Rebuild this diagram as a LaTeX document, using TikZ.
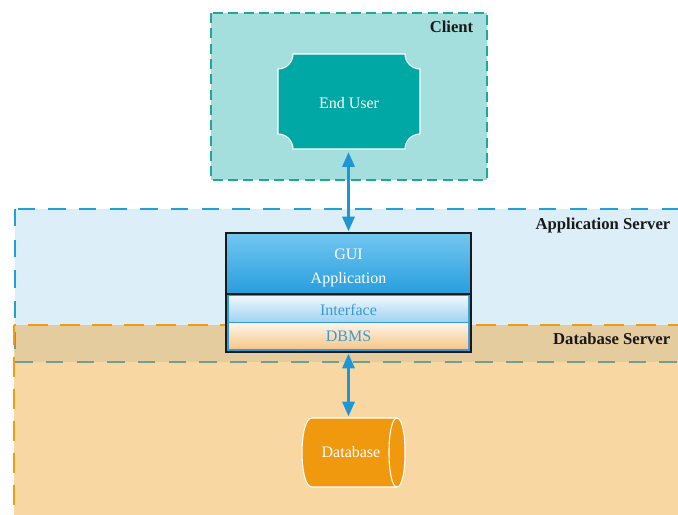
\documentclass[tikz,border=0pt]{standalone}
\usepackage{fontspec}
\setmainfont{Liberation Serif}
\usetikzlibrary{arrows.meta}

\definecolor{tealline}{RGB}{32,166,158}
\definecolor{tealfill}{RGB}{164,223,222}
\definecolor{userfill}{RGB}{0,168,165}
\definecolor{appfill}{RGB}{220,238,248}
\definecolor{appline}{RGB}{30,160,220}
\definecolor{dborange}{RGB}{240,155,25}
\definecolor{arrowblue}{RGB}{30,150,214}
\definecolor{cylfill}{RGB}{240,153,15}
\definecolor{boxblue}{RGB}{52,155,218}
\definecolor{textblue}{RGB}{58,154,216}
\definecolor{guitop}{RGB}{114,198,240}
\definecolor{guibot}{RGB}{40,158,222}
\definecolor{iftop}{RGB}{236,247,253}
\definecolor{ifbot}{RGB}{160,211,240}
\definecolor{dbmstop}{RGB}{254,244,229}
\definecolor{dbmsbot}{RGB}{247,199,138}

\tikzset{
  zone/.style={line width=2pt},
  zonelabel/.style={anchor=base east, font=\fontsize{12.5}{14}\selectfont\bfseries, text=black!90},
  bodytext/.style={font=\fontsize{12}{18}\selectfont},
  link/.style={draw=arrowblue, line width=2.2pt,
    {Triangle[length=11pt,width=9pt]}-{Triangle[length=11pt,width=9pt]}, shorten <=1pt, shorten >=1pt},
}

\begin{document}
\begin{tikzpicture}[x=0.75pt, y=-0.75pt]
\useasboundingbox (0,0) rectangle (678,514);
\begin{scope}
\clip (0,0) rectangle (678,514);

% server zones
\draw[zone, draw=appline, fill=appfill, dash pattern=on 13pt off 10pt]
  (15,209) rectangle (700,362);
\draw[zone, draw=dborange, fill=dborange, fill opacity=0.4, dash pattern=on 15pt off 9pt]
  (14,325) rectangle (700,520);

% client zone
\draw[line width=2.2pt, draw=tealline, fill=tealfill, dash pattern=on 7.5pt off 4pt]
  (211,13) rectangle (487,180);
\end{scope}

\node[zonelabel] (lclient) at (478,32) {Client};
\node[zonelabel] (lapp) at (675,229) {Application Server};
\node[zonelabel] (ldb) at (675,344) {Database Server};

% end user
\fill[userfill, draw=white, line width=0.8pt]
  (293,54) -- (405,54) .. controls (405,62.28) and (411.72,69) .. (420,69)
  -- (420,134) .. controls (411.72,134) and (405,140.72) .. (405,149)
  -- (293,149) .. controls (293,140.72) and (286.28,134) .. (278,134)
  -- (278,69) .. controls (286.28,69) and (293,62.28) .. cycle;
\node[bodytext, text=white, minimum width=106.5pt, minimum height=71.25pt] (user) at (349,103) {End User};

% application block
\node[fill=boxblue, minimum width=183.75pt, minimum height=89.25pt, inner sep=0pt] (app) at (348.5,292.5) {};
\shade[top color=guitop, bottom color=guibot] (227,234) rectangle (470,293);
\draw[black!90, line width=1.5pt] (226,233) rectangle (471,294);
\node[bodytext, text=white, align=center] (gui) at (348.5,267.5) {GUI\\Application};

\shade[top color=iftop, bottom color=ifbot] (229,296.5) rectangle (468,321.5);
\node[bodytext, text=textblue, inner sep=0pt] (iface) at (348.5,309.5) {Interface};

\shade[top color=dbmstop, bottom color=dbmsbot] (229,323.5) rectangle (468,348.5);
\node[bodytext, text=textblue, inner sep=0pt] (dbms) at (348.5,336.5) {DBMS};
\draw[black!90, line width=1.5pt] (226,233) rectangle (471,352);

% database cylinder
\fill[cylfill, draw=white, line width=0.8pt]
  (312,418) -- (397,418) .. controls (407.7,418) and (407.7,487) .. (397,487)
  -- (312,487) .. controls (298.7,487) and (298.7,418) .. cycle;
\draw[white, line width=0.8pt] (397,418) .. controls (386.3,418) and (386.3,487) .. (397,487);
\node[bodytext, text=white, minimum width=77.25pt, minimum height=51.75pt] (db) at (351,452.5) {Database};

% connectors
\draw[link] (app.north) -- (app.north |- user.south);
\draw[link] (app.south) -- (app.south |- db.north);
\end{tikzpicture}
\end{document}
